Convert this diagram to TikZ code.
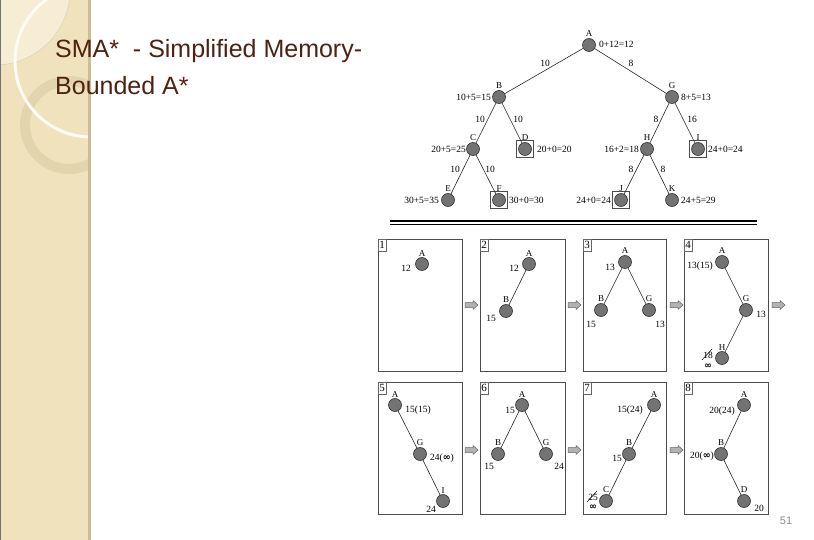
\documentclass[tikz,border=0pt]{standalone}
\usepackage{fontspec}
\setmainfont{Liberation Serif}
\newfontfamily\titlefont{Liberation Sans}
\newfontfamily\symfont{DejaVu Sans}
\definecolor{barcol}{RGB}{240,226,188}
\definecolor{lightcol}{RGB}{246,237,212}
\definecolor{ringcol}{RGB}{226,212,172}
\definecolor{stripcol}{RGB}{204,190,152}
\definecolor{titlecol}{RGB}{78,34,18}
\newcommand{\infsym}{{\symfont\bfseries ∞}}
\begin{document}
\begin{tikzpicture}[x=1pt,y=-1pt,
 vert/.style={circle,draw=black!80,fill=black!55,minimum size=13pt,inner sep=0pt,line width=0.6pt},
 nm/.style={font=\fontsize{9}{10}\selectfont,inner sep=1pt},
 val/.style={font=\fontsize{9.5}{11}\selectfont,inner sep=0pt},
 elbl/.style={font=\fontsize{9.5}{11}\selectfont,inner sep=0pt},
 edge/.style={draw=black!85,line width=0.6pt},
 goal/.style={rectangle,draw=black!70,line width=0.6pt,minimum size=17pt,inner sep=0pt},
 panel/.style={draw=black!70,line width=0.8pt},
 pnum/.style={rectangle,draw=black!60,line width=0.5pt,anchor=north west,inner sep=1pt,minimum height=12pt,font=\fontsize{11}{11}\selectfont},
 parrow/.style={fill=black!30,draw=black!60,line width=0.5pt},
 infnode/.style={font=\fontsize{9}{9}\selectfont,inner sep=0pt},
 strike/.style={line width=0.5pt},
]
\useasboundingbox (0,0) rectangle (814,540);
\fill[white] (0,0) rectangle (814,540);
% left decoration
\fill[barcol] (0,0) rectangle (88,540);
\begin{scope}
\clip (0,0) rectangle (88,540);
\fill[lightcol] (-5,-10) circle (75);
\draw[black!20,line width=0.4pt] (-5,-10) circle (75);
\draw[ringcol,line width=10pt] (69,125) circle (44);
\draw[white!85!barcol,line width=3pt] (91,61) circle (76);
\end{scope}
\fill[stripcol] (88,0) rectangle (91,540);
\draw[black!55,line width=1pt] (0.5,0) -- (0.5,540);
% title
\node[anchor=base west,font=\titlefont\fontsize{25}{30}\selectfont,text=titlecol,inner sep=0pt] (t1) at (55,58) {SMA*\ \ - Simplified Memory-};
\node[anchor=base west,font=\titlefont\fontsize{25}{30}\selectfont,text=titlecol,inner sep=0pt] (t2) at (55,95) {Bounded A*};
\node[font=\titlefont\fontsize{11}{12}\selectfont,text=black!45,inner sep=0pt] (pg) at (786,521) {51};
% ===== top tree =====
\node[vert,label={[nm]above:A}] (A) at (589,45) {};
\node[vert,label={[nm]above:B}] (B) at (499,97) {};
\node[vert,label={[nm]above:G}] (G) at (672,97) {};
\node[vert,label={[nm]above:C}] (C) at (473,149) {};
\node[vert,label={[nm]above:D}] (D) at (525,149) {};
\node[vert,label={[nm]above:H}] (H) at (647,149) {};
\node[vert,label={[nm]above:I}] (I) at (698,149) {};
\node[vert,label={[nm]above:E}] (E) at (448,200) {};
\node[vert,label={[nm]above:F}] (F) at (499,200) {};
\node[vert,label={[nm]above:J}] (J) at (621,200) {};
\node[vert,label={[nm]above:K}] (K) at (672,200) {};
\node[goal] (Db) at (D) {};
\node[goal] (Ib) at (I) {};
\node[goal] (Fb) at (F) {};
\node[goal] (Jb) at (J) {};
\draw[edge] (A) -- (B);
\draw[edge] (A) -- (G);
\draw[edge] (B) -- (C);
\draw[edge] (B) -- (D);
\draw[edge] (G) -- (H);
\draw[edge] (G) -- (I);
\draw[edge] (C) -- (E);
\draw[edge] (C) -- (F);
\draw[edge] (H) -- (J);
\draw[edge] (H) -- (K);
\node[val,anchor=west] (Av) at (599,44) {0+12=12};
\node[val,anchor=east] (Bv) at (491,97) {10+5=15};
\node[val,anchor=west] (Gv) at (681,97) {8+5=13};
\node[val,anchor=east] (Cv) at (466,149) {20+5=25};
\node[val,anchor=west] (Dv) at (537,149) {20+0=20};
\node[val,anchor=east] (Hv) at (639,149) {16+2=18};
\node[val,anchor=west] (Iv) at (708,149) {24+0=24};
\node[val,anchor=east] (Ev) at (439,200) {30+5=35};
\node[val,anchor=west] (Fv) at (509,200) {30+0=30};
\node[val,anchor=east] (Jv) at (611,200) {24+0=24};
\node[val,anchor=west] (Kv) at (681,200) {24+5=29};
\node[elbl] (eAB) at (545,63) {10};
\node[elbl] (eAG) at (631,63) {8};
\node[elbl] (eBC) at (480,119) {10};
\node[elbl] (eBD) at (518,119) {10};
\node[elbl] (eGH) at (656,119) {8};
\node[elbl] (eGI) at (692,119) {16};
\node[elbl] (eCE) at (455,169) {10};
\node[elbl] (eCF) at (490,169) {10};
\node[elbl] (eHJ) at (631,169) {8};
\node[elbl] (eHK) at (663,169) {8};
% double rule
\draw[black,line width=1.3pt] (390,221) -- (757,221);
\draw[black,line width=1.3pt] (390,224.5) -- (757,224.5);
% ===== panels =====
\draw[panel] (378,239) rectangle (462,371);
\draw[panel] (480,239) rectangle (565,371);
\draw[panel] (583,239) rectangle (666,371);
\draw[panel] (684,239) rectangle (768,371);
\draw[panel] (378,382) rectangle (462,514);
\draw[panel] (480,382) rectangle (565,514);
\draw[panel] (583,382) rectangle (666,514);
\draw[panel] (684,382) rectangle (768,514);
\node[pnum] (n1) at (378,239) {1};
\node[pnum] (n2) at (480,239) {2};
\node[pnum] (n3) at (583,239) {3};
\node[pnum] (n4) at (684,239) {4};
\node[pnum] (n5) at (378,382) {5};
\node[pnum] (n6) at (480,382) {6};
\node[pnum] (n7) at (583,382) {7};
\node[pnum] (n8) at (684,382) {8};
% arrows between panels
\foreach \ax/\ay in {465/305,568/305,670/305,772/305,465/450,568/450,670/450}{
  \draw[parrow] (\ax,\ay) ++(0,-2.5) -- ++(8,0) -- ++(0,-2) -- ++(5,4.5) -- ++(-5,4.5) -- ++(0,-2) -- ++(-8,0) -- cycle;
}
% panel 1
\node[vert,label={[nm]above:A}] (A1) at (422,264) {};
\node[val] (A1v) at (406,268) {12};
% panel 2
\node[vert,label={[nm]above:A}] (A2) at (529,264) {};
\node[vert,label={[nm]above:B}] (B2) at (506,311) {};
\draw[edge] (A2) -- (B2);
\node[val] (A2v) at (514,268) {12};
\node[val] (B2v) at (491,318) {15};
% panel 3
\node[vert,label={[nm]above:A}] (A3) at (625,262) {};
\node[vert,label={[nm]above:B}] (B3) at (601,310) {};
\node[vert,label={[nm]above:G}] (G3) at (649,310) {};
\draw[edge] (A3) -- (B3);
\draw[edge] (A3) -- (G3);
\node[val] (A3v) at (610,267) {13};
\node[val] (B3v) at (591,324) {15};
\node[val] (G3v) at (660,324) {13};
% panel 4
\node[vert,label={[nm]above:A}] (A4) at (722,262) {};
\node[vert,label={[nm]above:G}] (G4) at (746,310) {};
\node[vert,label={[nm]above:H}] (H4) at (722,358) {};
\draw[edge] (A4) -- (G4);
\draw[edge] (G4) -- (H4);
\node[val] (A4v) at (700,266) {13(15)};
\node[val] (G4v) at (761,314) {13};
\node[val] (H4v) at (708,355) {18};
\draw[strike] (702,360) -- (712,349);
\node[infnode] (H4i) at (708,366) {\infsym};
% panel 5
\node[vert,label={[nm]above:A}] (A5) at (395,405) {};
\node[vert,label={[nm]above:G}] (G5) at (420,454) {};
\node[vert,label={[nm]above:I}] (I5) at (443,501) {};
\draw[edge] (A5) -- (G5);
\draw[edge] (G5) -- (I5);
\node[val] (A5v) at (418,410) {15(15)};
\node[val] (G5v) at (442,458) {24(\infsym)};
\node[val] (I5v) at (431,509) {24};
% panel 6
\node[vert,label={[nm]above:A}] (A6) at (522,405) {};
\node[vert,label={[nm]above:B}] (B6) at (498,454) {};
\node[vert,label={[nm]above:G}] (G6) at (546,454) {};
\draw[edge] (A6) -- (B6);
\draw[edge] (A6) -- (G6);
\node[val] (A6v) at (510,410) {15};
\node[val] (B6v) at (489,466) {15};
\node[val] (G6v) at (559,466) {24};
% panel 7
\node[vert,label={[nm]above:A}] (A7) at (654,405) {};
\node[vert,label={[nm]above:B}] (B7) at (629,454) {};
\node[vert,label={[nm]above:C}] (C7) at (606,501) {};
\draw[edge] (A7) -- (B7);
\draw[edge] (B7) -- (C7);
\node[val] (A7v) at (630,410) {15(24)};
\node[val] (B7v) at (617,458) {15};
\node[val] (C7v) at (593,497) {25};
\draw[strike] (587,502) -- (597,491);
\node[infnode] (C7i) at (593,507) {\infsym};
% panel 8
\node[vert,label={[nm]above:A}] (A8) at (744,405) {};
\node[vert,label={[nm]above:B}] (B8) at (721,454) {};
\node[vert,label={[nm]above:D}] (D8) at (744,501) {};
\draw[edge] (A8) -- (B8);
\draw[edge] (B8) -- (D8);
\node[val] (A8v) at (722,411) {20(24)};
\node[val] (B8v) at (702,456) {20(\infsym)};
\node[val] (D8v) at (759,508) {20};
\end{tikzpicture}
\end{document}
